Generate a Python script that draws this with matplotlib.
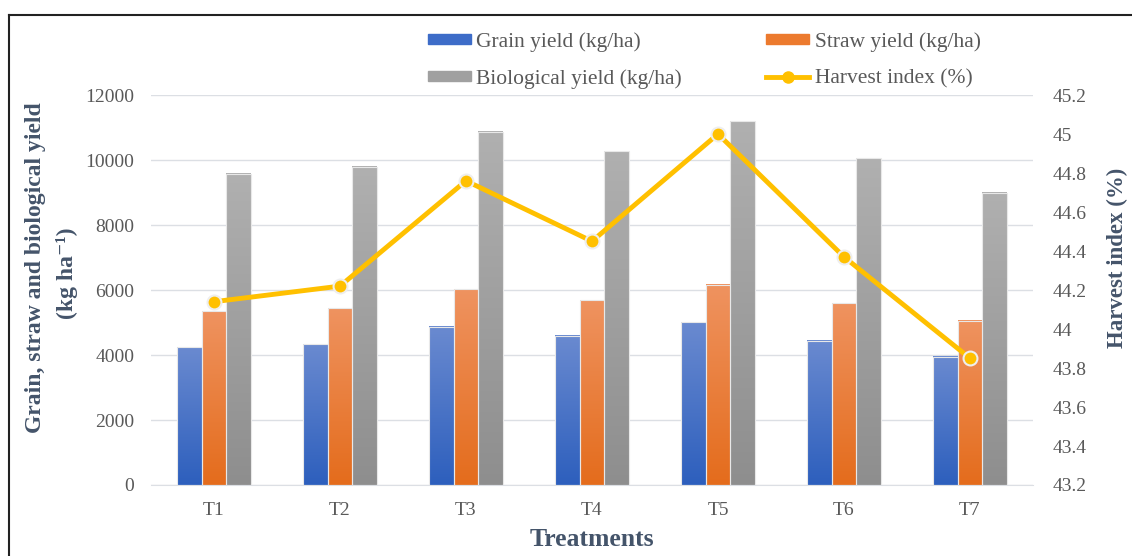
import numpy as np
import matplotlib.pyplot as plt
from matplotlib.patches import Rectangle
from matplotlib.lines import Line2D

plt.rcParams['font.family'] = ['Liberation Serif', 'DejaVu Serif']

treatments = ['T1', 'T2', 'T3', 'T4', 'T5', 'T6', 'T7']
grain = [4240, 4330, 4870, 4585, 5015, 4440, 3940]
straw = [5345, 5445, 6020, 5690, 6165, 5590, 5055]
biological = [9580, 9795, 10870, 10265, 11200, 10050, 8995]
harvest_index = [44.14, 44.22, 44.76, 44.45, 45.00, 44.37, 43.85]

label_col = '#44546A'
tick_col = '#595959'

fig = plt.figure(figsize=(11.32, 5.56), dpi=100)
ax = fig.add_axes([0.1334, 0.1277, 0.7791, 0.7014])
ax2 = ax.twinx()

x = np.arange(len(treatments))
w = 0.195


def gradient_bars(xs, heights, top, bottom):
    # vertical colour gradient: lighter at the top, darker at the base
    c = np.linspace(0, 1, 256).reshape(-1, 1)
    top = np.array(plt.matplotlib.colors.to_rgb(top))
    bottom = np.array(plt.matplotlib.colors.to_rgb(bottom))
    img = bottom + (top - bottom) * c[..., None]
    for xi, h in zip(xs, heights):
        ax.imshow(img, extent=[xi - w / 2, xi + w / 2, 0, h], origin='lower',
                  aspect='auto', zorder=2, interpolation='bilinear')
        ax.add_patch(Rectangle((xi - w / 2, 0), w, h, fill=False,
                               edgecolor='#e8e8e8', lw=0.8, zorder=3))


gradient_bars(x - w, grain, '#6a8ad0', '#2d5fbd')
gradient_bars(x, straw, '#ef9360', '#e46c1c')
gradient_bars(x + w, biological, '#b0b0b0', '#8e8e8e')
ax.set_xlim(-0.5, len(treatments) - 0.5)
ax.set_ylim(0, 12000)

ax2.plot(x, harvest_index, color='#FFC000', lw=3.5, marker='o', ms=10,
         markerfacecolor='#FFC000', markeredgecolor='#eeeeee', mew=1.5,
         zorder=5)
ax2.set_ylim(43.2, 45.2)
ax2.set_yticks(np.arange(43.2, 45.21, 0.2))
ax2.set_yticklabels(['43.2', '43.4', '43.6', '43.8', '44', '44.2', '44.4',
                     '44.6', '44.8', '45', '45.2'])

ax.set_yticks(range(0, 12001, 2000))
ax.set_xticks(x)
ax.set_xticklabels(treatments)
ax.yaxis.grid(True, color='#dcdfe4', lw=1)
ax.set_axisbelow(True)

for a in (ax, ax2):
    for s in a.spines.values():
        s.set_visible(False)
    a.tick_params(length=0, labelsize=14, labelcolor=tick_col)
ax.spines['bottom'].set_visible(True)
ax.spines['bottom'].set_color('#dcdfe4')
ax.tick_params(axis='y', pad=12)
ax.tick_params(axis='x', pad=12)
ax2.tick_params(axis='y', pad=14)

ax.set_xlabel('Treatments', fontsize=18.5, fontweight='bold', color=label_col,
              labelpad=7)
fig.text(0.031, 0.518, 'Grain, straw and biological yield', rotation=90,
         ha='center', va='center', fontsize=17, fontweight='bold',
         color=label_col)
fig.text(0.059, 0.509, '(kg ha\u207b\u00b9)', rotation=90, ha='center',
         va='center', fontsize=17, fontweight='bold', color=label_col)
fig.text(0.987, 0.537, 'Harvest index (%)', rotation=90, ha='center',
         va='center', fontsize=16.5, fontweight='bold', color=label_col)

handles = [
    Rectangle((0, 0), 1, 1, color='#3d6cc8'),
    Rectangle((0, 0), 1, 1, color='#a0a0a0'),
    Rectangle((0, 0), 1, 1, color='#ec7a2e'),
    Line2D([], [], color='#FFC000', lw=3.5, marker='o', ms=8,
           markeredgecolor='#FFC000'),
]
names = ['Grain yield (kg/ha)', 'Biological yield (kg/ha)',
         'Straw yield (kg/ha)', 'Harvest index (%)']
fig.legend(handles, names, ncol=2, loc='upper left',
           bbox_to_anchor=(428 / 1132, 1 - 32 / 556), borderpad=0,
           borderaxespad=0, frameon=False, fontsize=15.5, labelcolor=tick_col,
           handlelength=2.0, handleheight=0.35, handletextpad=0.25,
           columnspacing=3.9, labelspacing=0.82)

# outer frame of the figure (left and top edges visible)
fig.add_artist(Line2D([9 / 1132, 9 / 1132], [0, 1 - 15 / 556],
                      transform=fig.transFigure, color='#222222', lw=1.5))
fig.add_artist(Line2D([9 / 1132, 1], [1 - 15 / 556, 1 - 15 / 556],
                      transform=fig.transFigure, color='#222222', lw=1.5))

fig.savefig('out.png', dpi=100)
